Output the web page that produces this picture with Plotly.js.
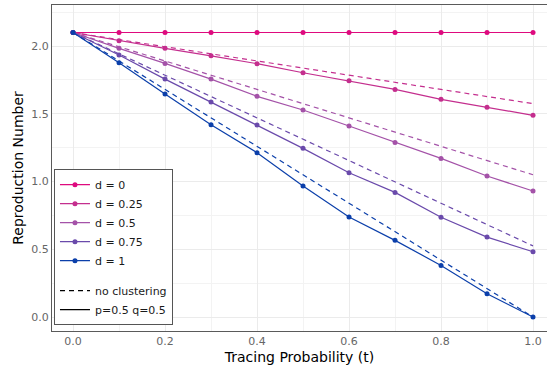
<!DOCTYPE html>
<html>
<head>
<meta charset="utf-8">
<script src="https://cdn.plot.ly/plotly-3.0.1.min.js"></script>
<style>html,body{margin:0;padding:0;background:#fff;}#chart{width:547px;height:369px;}</style>
</head>
<body>
<div id="chart"></div>
<script>
const t = [0, 0.1, 0.2, 0.3, 0.4, 0.5, 0.6, 0.7, 0.8, 0.9, 1.0];
const labels = ["d = 0", "d = 0.25", "d = 0.5", "d = 0.75", "d = 1"];
const colors = ["#DE0A7E", "#C42E8E", "#A452A8", "#6A4AAB", "#0B3FAA"];

// p=0.5 q=0.5 (solid, with points)
const clustered_d0    = [2.1, 2.1, 2.1, 2.1, 2.1, 2.1, 2.1, 2.1, 2.1, 2.1, 2.1];
const clustered_d025  = [2.1, 2.04, 1.983, 1.928, 1.87, 1.803, 1.744, 1.68, 1.607, 1.548, 1.489];
const clustered_d05   = [2.1, 1.983, 1.872, 1.756, 1.629, 1.528, 1.41, 1.289, 1.171, 1.041, 0.93];
const clustered_d075  = [2.1, 1.934, 1.756, 1.587, 1.417, 1.245, 1.065, 0.92, 0.736, 0.59, 0.482];
const clustered_d1    = [2.1, 1.877, 1.646, 1.42, 1.213, 0.967, 0.738, 0.566, 0.381, 0.172, 0.0];

// no clustering (dashed)
const noclust_d0   = [2.1, 2.1, 2.1, 2.1, 2.1, 2.1, 2.1, 2.1, 2.1, 2.1, 2.1];
const noclust_d025 = [2.1, 2.0475, 1.995, 1.9425, 1.89, 1.8375, 1.785, 1.7325, 1.68, 1.6275, 1.575];
const noclust_d05  = [2.1, 1.995, 1.89, 1.785, 1.68, 1.575, 1.47, 1.365, 1.26, 1.155, 1.05];
const noclust_d075 = [2.1, 1.9425, 1.785, 1.6275, 1.47, 1.3125, 1.155, 0.9975, 0.84, 0.6825, 0.525];
const noclust_d1   = [2.1, 1.89, 1.68, 1.47, 1.26, 1.05, 0.84, 0.63, 0.42, 0.21, 0.0];

const clustered = [clustered_d0, clustered_d025, clustered_d05, clustered_d075, clustered_d1];
const noclust = [noclust_d0, noclust_d025, noclust_d05, noclust_d075, noclust_d1];

const traces = [];
for (let i = 0; i < 5; i++) {
  traces.push({
    x: t, y: noclust[i], type: 'scatter', mode: 'lines',
    line: {color: colors[i], width: 1.2, dash: '5px,4px'},
    showlegend: false, hoverinfo: 'skip'
  });
}
for (let i = 0; i < 5; i++) {
  traces.push({
    x: t, y: clustered[i], type: 'scatter', mode: 'lines+markers',
    name: labels[i], legendgroup: 'd',
    line: {color: colors[i], width: 1.2},
    marker: {color: colors[i], size: 5}
  });
}
traces.push({x: [null], y: [null], type: 'scatter', mode: 'lines', name: 'no clustering',
  legendgroup: 'style', line: {color: '#000', width: 1.2, dash: '5px,4px'}});
traces.push({x: [null], y: [null], type: 'scatter', mode: 'lines', name: 'p=0.5 q=0.5',
  legendgroup: 'style', line: {color: '#000', width: 1.2}});

const layout = {
  width: 547, height: 369,
  margin: {l: 52, r: 0, t: 5, b: 38},
  paper_bgcolor: '#fff', plot_bgcolor: '#fff',
  font: {family: 'DejaVu Sans', size: 11, color: '#4d4d4d'},
  xaxis: {
    range: [-0.0457, 1.0304], tickmode: 'linear', tick0: 0, dtick: 0.2,
    tickformat: '.1f', ticks: '', ticklen: 0,
    showgrid: true, gridcolor: '#ebebeb', gridwidth: 1,
    minor: {dtick: 0.1, showgrid: true, gridcolor: '#f3f3f3', gridwidth: 1},
    zeroline: false, showline: true, linecolor: '#5a5a5a', linewidth: 1, mirror: true,
    tickfont: {size: 11, color: '#666666'},
    title: {text: 'Tracing Probability (t)', font: {size: 14, color: '#000'}, standoff: 4}
  },
  yaxis: {
    range: [-0.103, 2.303], tickmode: 'linear', tick0: 0, dtick: 0.5,
    tickformat: '.1f', ticks: '', ticklen: 0,
    showgrid: true, gridcolor: '#ebebeb', gridwidth: 1,
    minor: {dtick: 0.25, showgrid: true, gridcolor: '#f3f3f3', gridwidth: 1},
    zeroline: false, showline: true, linecolor: '#5a5a5a', linewidth: 1,
    tickfont: {size: 11, color: '#666666'},
    title: {text: 'Reproduction Number', font: {size: 14, color: '#000'}, standoff: 4}
  },
  legend: {
    x: 0.004, y: 0.018, xanchor: 'left', yanchor: 'bottom',
    bgcolor: '#fff', bordercolor: '#555555', borderwidth: 1,
    font: {size: 11, color: '#1a1a1a'},
    traceorder: 'grouped', tracegroupgap: 11, itemwidth: 30
  },
  showlegend: true
};

Plotly.newPlot('chart', traces, layout, {staticPlot: true, displayModeBar: false});
</script>
</body>
</html>
